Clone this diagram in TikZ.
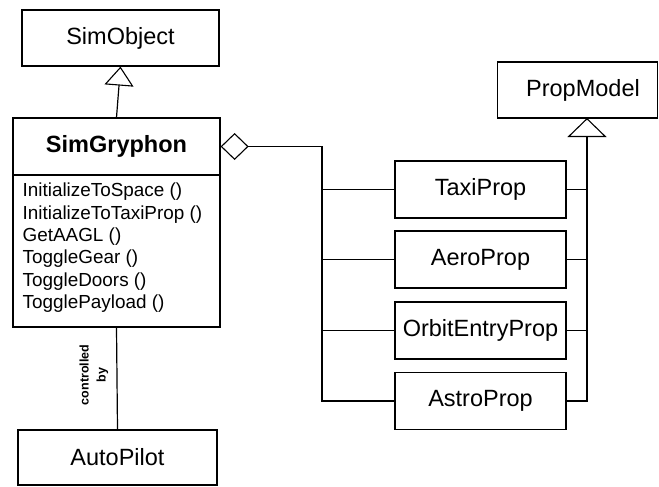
\documentclass[tikz,border=0pt]{standalone}
\usepackage{fontspec}
\setmainfont{Liberation Sans}
\usetikzlibrary{arrows.meta}
\begin{document}
\begin{tikzpicture}[x=1pt,y=-1pt,line width=1.2pt,
  cls/.style={draw,rectangle,inner sep=0pt,font=\fontsize{23.5}{27}\selectfont},
  gen/.style={-{Triangle[open,length=19pt,width=#1,line width=1.1pt]}},
  agg/.style={{Diamond[open,length=28pt,width=27pt,line width=1.1pt]}-}]
\useasboundingbox (0,0) rectangle (659,487);
% classes
\node[cls,minimum width=197pt,minimum height=56pt] (so) at (120.5,38) {SimObject};
\node[cls,minimum width=207pt,minimum height=57pt,font=\fontsize{23.5}{27}\selectfont\bfseries] (sgh) at (116.5,146.5) {SimGryphon};
\node[cls,minimum width=207pt,minimum height=152pt] (sgm) at (116.5,251) {};
\node[anchor=north west,inner sep=0pt,align=left,font=\fontsize{18.9}{22.4}\selectfont] (meth) at (22,182.5)
  {InitializeToSpace ()\\InitializeToTaxiProp ()\\GetAAGL ()\\ToggleGear ()\\ToggleDoors ()\\TogglePayload ()};
\node[cls,minimum width=199pt,minimum height=55pt] (ap) at (117.5,457.5) {AutoPilot};
\node[cls,minimum width=160pt,minimum height=56pt] (pm) at (577.5,90) {\hspace*{11pt}PropModel};
\node[cls,minimum width=171pt,minimum height=57pt] (taxi) at (480.5,189.5) {TaxiProp};
\node[cls,minimum width=171pt,minimum height=57pt] (aero) at (480.5,259.5) {AeroProp};
\node[cls,minimum width=171pt,minimum height=57pt] (orbit) at (480.5,330.5) {OrbitEntryProp};
\node[cls,minimum width=171pt,minimum height=57pt] (astro) at (480.5,401) {AstroProp};
% generalization SimGryphon -> SimObject
\draw[gen=29pt] (sgh.north) -- (so.south);
% aggregation bus
\coordinate (busL) at (322,146.5);
\draw[agg] (sgh.east) -- (busL) |- (astro.west);
\draw (busL |- taxi.west) -- (taxi.west);
\draw (busL |- aero.west) -- (aero.west);
\draw (busL |- orbit.west) -- (orbit.west);
% generalization props -> PropModel
\coordinate (pmtip) at (587,118);
\draw[gen=39pt] (astro.east) -| (pmtip);
\draw (taxi.east) -- (taxi.east -| pmtip);
\draw (aero.east) -- (aero.east -| pmtip);
\draw (orbit.east) -- (orbit.east -| pmtip);
% controlled by
\draw (sgm.south) -- (ap.north);
\node[rotate=90,align=center,inner sep=0pt,font=\fontsize{12.5}{17}\selectfont\bfseries] (ctl) at (94,375) {controlled\\by};
\end{tikzpicture}
\end{document}
